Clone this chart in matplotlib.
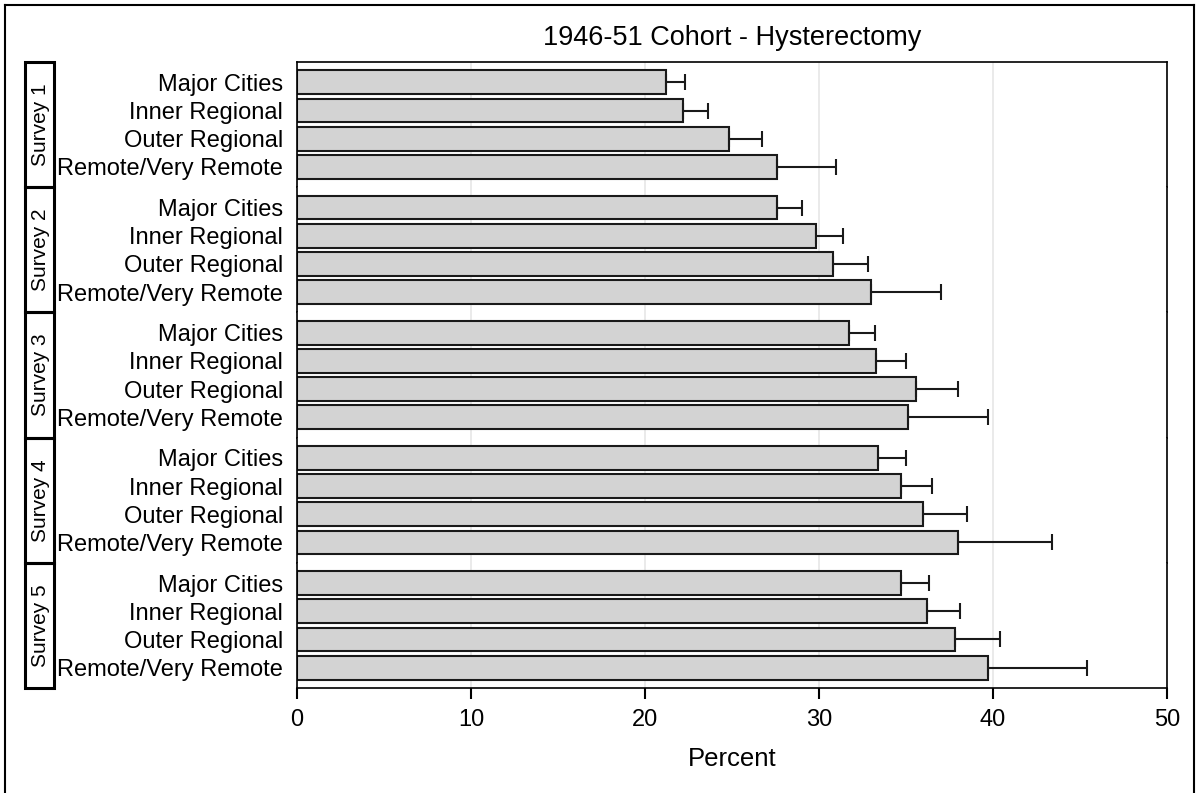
import numpy as np
import matplotlib
matplotlib.use("Agg")
import matplotlib.pyplot as plt
from matplotlib.patches import Rectangle
from matplotlib.lines import Line2D
import matplotlib.transforms as mtransforms

plt.rcParams['font.family'] = ['Liberation Sans', 'DejaVu Sans']

# data
surveys = ["Survey 1", "Survey 2", "Survey 3", "Survey 4", "Survey 5"]
regions = ["Major Cities", "Inner Regional", "Outer Regional", "Remote/Very Remote"]

percent = [
    [21.2, 22.2, 24.8, 27.6],
    [27.6, 29.8, 30.8, 33.0],
    [31.7, 33.3, 35.6, 35.1],
    [33.4, 34.7, 36.0, 38.0],
    [34.7, 36.2, 37.8, 39.7],
]
upper_ci = [
    [22.3, 23.6, 26.7, 31.0],
    [29.0, 31.4, 32.8, 37.0],
    [33.2, 35.0, 38.0, 39.7],
    [35.0, 36.5, 38.5, 43.4],
    [36.3, 38.1, 40.4, 45.4],
]
xticks = [0, 10, 20, 30, 40, 50]

W, H = 1198, 793
fig = plt.figure(figsize=(W / 100, H / 100), dpi=100)

left, right = 297 / W, 1167 / W
top, bottom = 1 - 62 / H, 1 - 688 / H
gs = fig.add_gridspec(len(surveys), 1, left=left, right=right, top=top, bottom=bottom, hspace=0.0)

for i, survey in enumerate(surveys):
    ax = fig.add_subplot(gs[i, 0])
    y = np.arange(len(regions))
    vals = np.array(percent[i])
    up = np.array(upper_ci[i]) - vals
    ax.barh(y, vals, height=0.85, color='#d3d3d3', edgecolor='#1a1a1a', linewidth=1.5, zorder=2)
    ax.errorbar(vals, y, xerr=[np.zeros_like(up), up], fmt='none', ecolor='#1a1a1a',
                elinewidth=1.5, capsize=6, capthick=1.5, zorder=3)
    ax.set_ylim(3.72, -0.72)
    ax.set_xlim(0, 50)
    ax.set_xticks(xticks)
    ax.set_yticks(y)
    ax.set_yticklabels(regions, fontsize=17)
    ax.tick_params(axis='y', length=0, pad=10)
    ax.grid(axis='x', color='#e6e6e6', linewidth=1.2, zorder=0)
    ax.set_axisbelow(True)
    for s in ax.spines.values():
        s.set_linewidth(1.2)
    if i > 0:
        ax.spines['top'].set_visible(False)
    if i < len(surveys) - 1:
        ax.spines['bottom'].set_visible(False)
        ax.tick_params(axis='x', length=0, labelbottom=False)
    else:
        ax.tick_params(axis='x', length=8, width=1.5, labelsize=17, pad=7)
        ax.set_xlabel("Percent", fontsize=18.5, labelpad=12)
    if i == 0:
        ax.set_title("1946-51 Cohort - Hysterectomy", fontsize=19.5, pad=12)

    # survey label box on the left
    trans = mtransforms.blended_transform_factory(fig.transFigure, ax.transAxes)
    box = Rectangle((25 / W, 0.0), 29 / W, 1.0, transform=trans, fill=False,
                    edgecolor='black', linewidth=2.2, clip_on=False)
    ax.add_patch(box)
    ax.text(40 / W, 0.5, survey, transform=trans, rotation=90, ha='center', va='center',
            fontsize=15)

# outer border
for xs, ys in [([5 / W, 5 / W], [0, 1 - 5 / H]),
               ([5 / W, 1 - 4 / W], [1 - 5 / H, 1 - 5 / H]),
               ([1 - 4 / W, 1 - 4 / W], [0, 1 - 5 / H])]:
    fig.add_artist(Line2D(xs, ys, transform=fig.transFigure, color='black', linewidth=1.5))

fig.savefig("out.png", dpi=100)
